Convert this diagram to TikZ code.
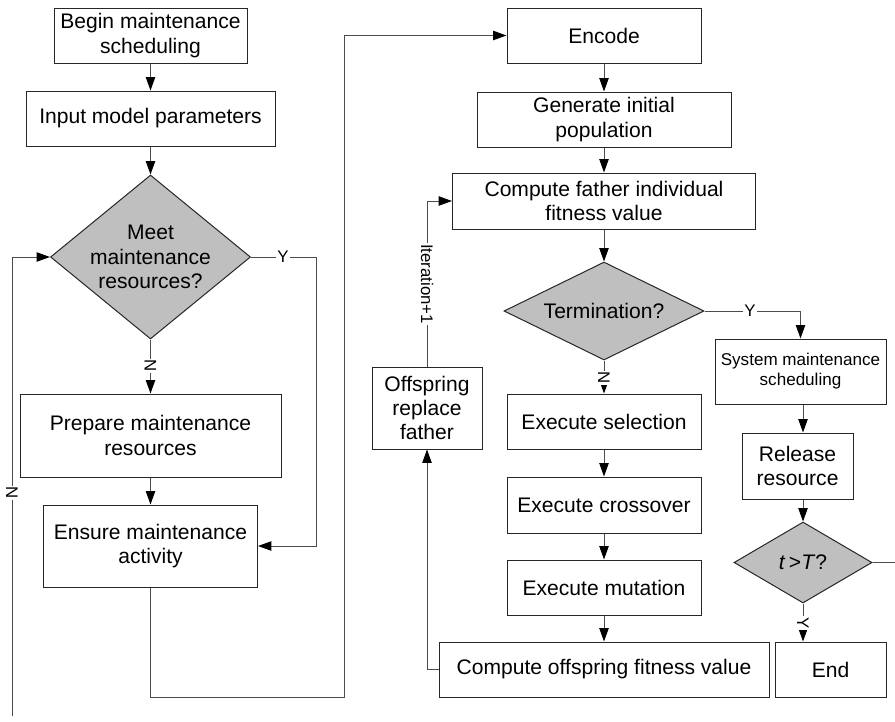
\documentclass[tikz,border=0pt]{standalone}
\usepackage{fontspec}
\setmainfont{Liberation Sans}
\usetikzlibrary{shapes.geometric,arrows.meta}

\tikzset{every picture/.style={line width=0.75pt}}
\tikzset{
  procbox/.style={draw=black!85, rectangle, inner sep=0.75pt, align=center, font=\fontsize{15.8}{18.2}\selectfont},
  decbox/.style={draw=black!85, fill=black!25, diamond, inner sep=-4pt, align=center, font=\fontsize{15.8}{18.2}\selectfont},
  flow/.style={draw=black!70, -{Triangle[length=10pt,width=7pt,color=black]}},
  plain/.style={draw=black!70},
  lbl/.style={fill=white, inner sep=1pt, font=\fontsize{12.6}{14}\selectfont},
}

\begin{document}
\begin{tikzpicture}[x=0.75pt,y=0.75pt,yscale=-1,xscale=1]
\useasboundingbox (0,0) rectangle (895,721);

% Left column
\node[procbox, minimum width=144.75pt, minimum height=41.25pt] (begin) at (150.5,35.5) {Begin maintenance\\scheduling};
\node[procbox, minimum width=186.75pt, minimum height=41.25pt] (input) at (150.5,118.5) {Input model parameters};
\node[decbox, minimum width=150pt, minimum height=123pt, aspect=1.22] (meet) at (150.5,257) {Meet\\maintenance\\resources?};
\node[procbox, minimum width=195.75pt, minimum height=62.25pt] (prep) at (150.5,435.5) {Prepare maintenance\\resources};
\node[procbox, minimum width=160.5pt, minimum height=61.5pt] (ensure) at (150.5,546) {Ensure maintenance\\activity};

% Middle column
\node[procbox, minimum width=145.5pt, minimum height=41.25pt] (encode) at (604,35.5) {Encode};
\node[procbox, minimum width=190.5pt, minimum height=41.25pt] (init) at (604,119.5) {Generate initial\\population};
\node[procbox, minimum width=227.25pt, minimum height=42pt] (father) at (604,201) {Compute father individual\\fitness value};
\node[decbox, minimum width=150pt, minimum height=73.5pt, aspect=2.04] (term) at (604,311) {Termination?};
\node[procbox, minimum width=145.5pt, minimum height=41.25pt] (select) at (604,421.5) {Execute selection};
\node[procbox, minimum width=145.5pt, minimum height=42pt] (cross) at (604,505) {Execute crossover};
\node[procbox, minimum width=145.5pt, minimum height=41.25pt] (mutate) at (604,587.5) {Execute mutation};
\node[procbox, minimum width=247.5pt, minimum height=41.25pt] (child) at (604,669.5) {Compute offspring fitness value};
\node[procbox, minimum width=82.5pt, minimum height=61.5pt] (replace) at (427,408) {Offspring\\replace\\father};

% Right column
\node[procbox, minimum width=128.25pt, minimum height=48.75pt, font=\fontsize{12.8}{15}\selectfont] (sched) at (800.5,371.5) {System maintenance\\scheduling};
\node[procbox, minimum width=83.25pt, minimum height=49.5pt] (release) at (797.5,466) {Release\\resource};
\node[decbox, minimum width=103.5pt, minimum height=60.75pt, aspect=1.7, inner sep=0pt] (tT) at (803,562.5) {\textit{t}\,>\textit{T}?};
\node[procbox, minimum width=83.25pt, minimum height=41.25pt] (finish) at (830.5,669.5) {End};

% Corners
\coordinate (yBend) at (316,546);
\coordinate (lowL) at (150.5,697);
\coordinate (lowR) at (344,697);
\coordinate (loopN) at (12,716);
\coordinate (rightEdge) at (895,562.5);

%Straight Lines
\draw[flow] (begin) -- (input);
\draw[flow] (input) -- (meet);
\draw[flow] (meet) -- (prep);
\draw[flow] (meet.east) -| (yBend) -- (ensure.east);
\draw[flow] (prep) -- (ensure);
\draw[flow] (ensure.south) -- (lowL) -- (lowR) |- (encode.west);
\draw[flow] (loopN) |- (meet.west);
%Straight Lines
\draw[flow] (encode) -- (init);
\draw[flow] (init) -- (father);
\draw[flow] (father) -- (term);
\draw[flow] (term) -- (select);
\draw[flow] (select) -- (cross);
\draw[flow] (cross) -- (mutate);
\draw[flow] (mutate) -- (child);
\draw[flow] (child.west) -| (replace.south);
\draw[flow] (replace.north) |- (father.west);
%Straight Lines
\draw[flow] (term.east) -| (sched.north);
\draw[flow] (sched.south -| tT.north) -- (tT.north |- release.north);
\draw[flow] (release.south -| tT.north) -- (tT.north);
\draw[flow] (tT.south) -- (tT.south |- finish.north);
\draw[plain] (tT.east) -- (rightEdge);

% Text Node
\node[lbl] (yMeet) at (283,257) {Y};
% Text Node
\node[lbl, rotate=-90] (nMeet) at (150.5,366) {N};
% Text Node
\node[lbl, rotate=-90] (nLoop) at (12,493) {N};
% Text Node
\node[lbl, rotate=-90] (iter) at (427,284) {Iteration+1};
% Text Node
\node[lbl] (yTerm) at (750,311) {Y};
% Text Node
\node[lbl, rotate=-90] (nTerm) at (604,378) {N};
% Text Node
\node[lbl, rotate=-90] (yTT) at (803,623) {Y};

\end{tikzpicture}
\end{document}
